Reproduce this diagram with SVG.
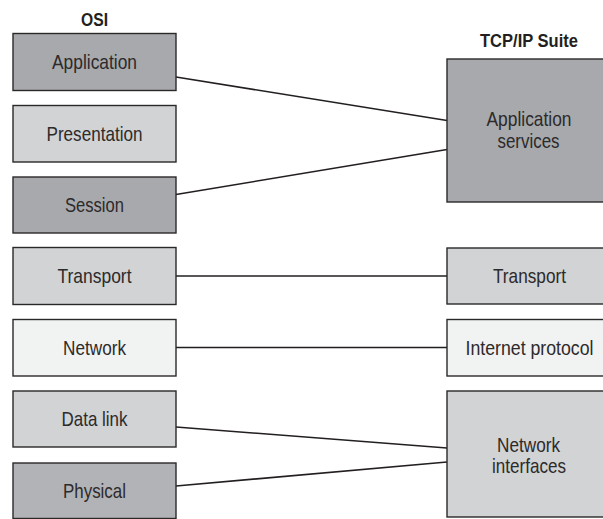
<svg xmlns="http://www.w3.org/2000/svg" width="603" height="519" viewBox="0 0 603 519">
  <style>
    .box { stroke: #2b2828; stroke-width: 1.4; }
    .dark { fill: #a7a9ac; }
    .phys { fill: #b1b3b6; }
    .mid { fill: #d1d3d4; }
    .light { fill: #f1f2f2; }
    .lbl { font-family: "Liberation Sans", Arial, sans-serif; font-size: 21px; fill: #2d2a2b; text-anchor: middle; }
    .head { font-family: "Liberation Sans", Arial, sans-serif; font-size: 18px; font-weight: bold; fill: #231f20; text-anchor: middle; }
    .link { stroke: #231f20; stroke-width: 1.6; fill: none; }
  </style>
  <rect width="603" height="519" fill="#ffffff"/>

  <!-- column headings -->
  <text class="head" x="94.5" y="25.5" textLength="27" lengthAdjust="spacingAndGlyphs">OSI</text>
  <text class="head" x="529" y="47" textLength="98" lengthAdjust="spacingAndGlyphs">TCP/IP Suite</text>

  <!-- connectors between the two stacks -->
  <g id="connectors">
    <line class="link" x1="176" y1="77" x2="447" y2="120.5"/>
    <line class="link" x1="176" y1="194.5" x2="447" y2="149.5"/>
    <line class="link" x1="176" y1="276" x2="447" y2="276"/>
    <line class="link" x1="176" y1="347.5" x2="447" y2="347.5"/>
    <line class="link" x1="176" y1="427" x2="447" y2="448"/>
    <line class="link" x1="176" y1="486" x2="447" y2="462"/>
  </g>

  <!-- OSI layers -->
  <g id="osi-application">
    <rect class="box dark" x="13" y="33.5" width="163" height="57"/>
    <text class="lbl" x="94.5" y="69" textLength="85" lengthAdjust="spacingAndGlyphs">Application</text>
  </g>
  <g id="osi-presentation">
    <rect class="box mid" x="13" y="105.5" width="163" height="56.5"/>
    <text class="lbl" x="94.5" y="140.5" textLength="96" lengthAdjust="spacingAndGlyphs">Presentation</text>
  </g>
  <g id="osi-session">
    <rect class="box dark" x="13" y="177" width="163" height="56"/>
    <text class="lbl" x="94.5" y="212" textLength="59" lengthAdjust="spacingAndGlyphs">Session</text>
  </g>
  <g id="osi-transport">
    <rect class="box mid" x="13" y="247.5" width="163" height="57"/>
    <text class="lbl" x="94.5" y="283" textLength="74" lengthAdjust="spacingAndGlyphs">Transport</text>
  </g>
  <g id="osi-network">
    <rect class="box light" x="13" y="319.5" width="163" height="56.5"/>
    <text class="lbl" x="94.5" y="355" textLength="63" lengthAdjust="spacingAndGlyphs">Network</text>
  </g>
  <g id="osi-datalink">
    <rect class="box mid" x="13" y="391" width="163" height="56"/>
    <text class="lbl" x="94.5" y="425.5" textLength="66" lengthAdjust="spacingAndGlyphs">Data link</text>
  </g>
  <g id="osi-physical">
    <rect class="box phys" x="13" y="463" width="163" height="55.5"/>
    <text class="lbl" x="94.5" y="497.5" textLength="63" lengthAdjust="spacingAndGlyphs">Physical</text>
  </g>

  <!-- TCP/IP layers (boxes run past the right edge) -->
  <g id="tcpip-application">
    <rect class="box dark" x="447" y="59" width="170" height="143"/>
    <text class="lbl" x="529" y="126" textLength="85" lengthAdjust="spacingAndGlyphs">Application</text>
    <text class="lbl" x="528.5" y="148" textLength="62" lengthAdjust="spacingAndGlyphs">services</text>
  </g>
  <g id="tcpip-transport">
    <rect class="box mid" x="447" y="248" width="170" height="56"/>
    <text class="lbl" x="529.5" y="283" textLength="73" lengthAdjust="spacingAndGlyphs">Transport</text>
  </g>
  <g id="tcpip-internet">
    <rect class="box light" x="447" y="319.5" width="170" height="56.5"/>
    <text class="lbl" x="529.5" y="355" textLength="128" lengthAdjust="spacingAndGlyphs">Internet protocol</text>
  </g>
  <g id="tcpip-netif">
    <rect class="box mid" x="447" y="391" width="170" height="126"/>
    <text class="lbl" x="528.5" y="452.3" textLength="63" lengthAdjust="spacingAndGlyphs">Network</text>
    <text class="lbl" x="529" y="473.3" textLength="74" lengthAdjust="spacingAndGlyphs">interfaces</text>
  </g>
</svg>
